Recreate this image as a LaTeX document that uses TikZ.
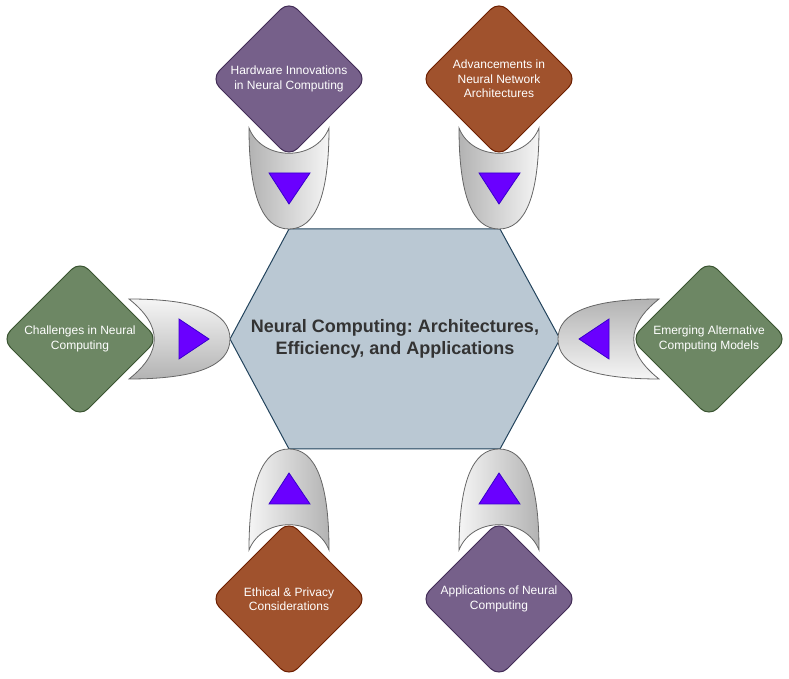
\documentclass[tikz,border=0pt]{standalone}
\usepackage{fontspec}
\setmainfont{Liberation Sans}
\usetikzlibrary{shapes.geometric}
\definecolor{hexfill}{HTML}{BAC8D3}
\definecolor{hexline}{HTML}{23445D}
\definecolor{purfill}{HTML}{76608A}
\definecolor{purline}{HTML}{432D57}
\definecolor{brnfill}{HTML}{A0522D}
\definecolor{brnline}{HTML}{6D1F00}
\definecolor{grnfill}{HTML}{6D8764}
\definecolor{grnline}{HTML}{3A5431}
\definecolor{trifill}{HTML}{6A00FF}
\definecolor{triline}{HTML}{3700CC}
\definecolor{funlight}{HTML}{F5F5F5}
\definecolor{fundark}{HTML}{B3B3B3}
\definecolor{funline}{HTML}{666666}
\definecolor{hubtext}{HTML}{333333}
\frenchspacing
\tikzset{
  topicbox/.style={shape=diamond, aspect=1, minimum width=156pt, minimum height=156pt,
    inner sep=0pt, outer sep=0pt, rounded corners=12pt, line width=1pt},
  topictext/.style={text=white, align=center, font=\fontsize{12}{14.5}\selectfont},
  funnel/.style={draw=funline, line width=0.8pt},
  arrowtri/.style={fill=trifill, draw=triline, line width=0.8pt, line join=miter},
}
\begin{document}
\begin{tikzpicture}[x=1pt,y=1pt]
\useasboundingbox (0,0) rectangle (789,679);
% central hexagon
\coordinate (h1) at (289,450);
\coordinate (h2) at (500,450);
\coordinate (h3) at (560,340);
\coordinate (h4) at (500,230);
\coordinate (h5) at (289,230);
\coordinate (h6) at (230,340);
\draw[fill=hexfill, draw=hexline, line width=1pt] (h1) -- (h2) -- (h3) -- (h4) -- (h5) -- (h6) -- cycle;
\node[text=hubtext, align=center, font=\fontsize{18}{22}\selectfont\bfseries] (hub) at (395,340)
  {Neural Computing: Architectures,\\Efficiency, and Applications};

% connectors (funnels)
% left, pointing right
\draw[funnel, top color=funlight, bottom color=fundark]
  (129,380) .. controls (196.3,380) and (230,366.7) .. (230,340)
  .. controls (230,313.3) and (196.3,300) .. (129,300)
  .. controls (162.7,326.7) and (162.7,353.3) .. (129,380) -- cycle;
% right, pointing left
\draw[funnel, top color=fundark, bottom color=funlight]
  (659,380) .. controls (591.7,380) and (558,366.7) .. (558,340)
  .. controls (558,313.3) and (591.7,300) .. (659,300)
  .. controls (625.3,326.7) and (625.3,353.3) .. (659,380) -- cycle;
% top-left, pointing down
\draw[funnel, left color=fundark, right color=funlight]
  (249,551) .. controls (249,483.7) and (262.3,450) .. (289,450)
  .. controls (315.7,450) and (329,483.7) .. (329,551)
  .. controls (315.7,517.3) and (262.3,517.3) .. (249,551) -- cycle;
% top-right, pointing down
\draw[funnel, left color=fundark, right color=funlight]
  (459,551) .. controls (459,483.7) and (472.3,450) .. (499,450)
  .. controls (525.7,450) and (539,483.7) .. (539,551)
  .. controls (525.7,517.3) and (472.3,517.3) .. (459,551) -- cycle;
% bottom-left, pointing up
\draw[funnel, left color=funlight, right color=fundark]
  (249,129) .. controls (249,196.3) and (262.3,230) .. (289,230)
  .. controls (315.7,230) and (329,196.3) .. (329,129)
  .. controls (315.7,162.7) and (262.3,162.7) .. (249,129) -- cycle;
% bottom-right, pointing up
\draw[funnel, left color=funlight, right color=fundark]
  (459,129) .. controls (459,196.3) and (472.3,230) .. (499,230)
  .. controls (525.7,230) and (539,196.3) .. (539,129)
  .. controls (525.7,162.7) and (472.3,162.7) .. (459,129) -- cycle;

% topic diamonds
\node[topicbox, fill=purfill, draw=purline,
  label={[topictext]center:Hardware Innovations\\in Neural Computing}] (hw) at (289,600) {};
\node[topicbox, fill=brnfill, draw=brnline,
  label={[topictext]center:Advancements in\\Neural Network\\Architectures}] (adv) at (499,600) {};
\node[topicbox, fill=grnfill, draw=grnline,
  label={[topictext]center:Challenges in Neural\\Computing}] (chal) at (80,340) {};
\node[topicbox, fill=grnfill, draw=grnline,
  label={[topictext]center:Emerging Alternative\\Computing Models}] (emer) at (709,340) {};
\node[topicbox, fill=brnfill, draw=brnline,
  label={[topictext]center:Ethical \& Privacy\\Considerations}] (eth) at (289,80) {};
\node[topicbox, fill=purfill, draw=purline,
  label={[topictext]center:Applications of Neural\\Computing}] (app) at (499,80) {};

% direction triangles
\draw[arrowtri] (179,360) -- (179,320) -- (209,340) -- cycle;
\draw[arrowtri] (609,360) -- (609,320) -- (579,340) -- cycle;
\draw[arrowtri] (269,506) -- (310,506) -- (289,475) -- cycle;
\draw[arrowtri] (479,506) -- (520,506) -- (499,475) -- cycle;
\draw[arrowtri] (269,175) -- (310,175) -- (289,206) -- cycle;
\draw[arrowtri] (479,175) -- (520,175) -- (499,206) -- cycle;
\end{tikzpicture}
\end{document}
